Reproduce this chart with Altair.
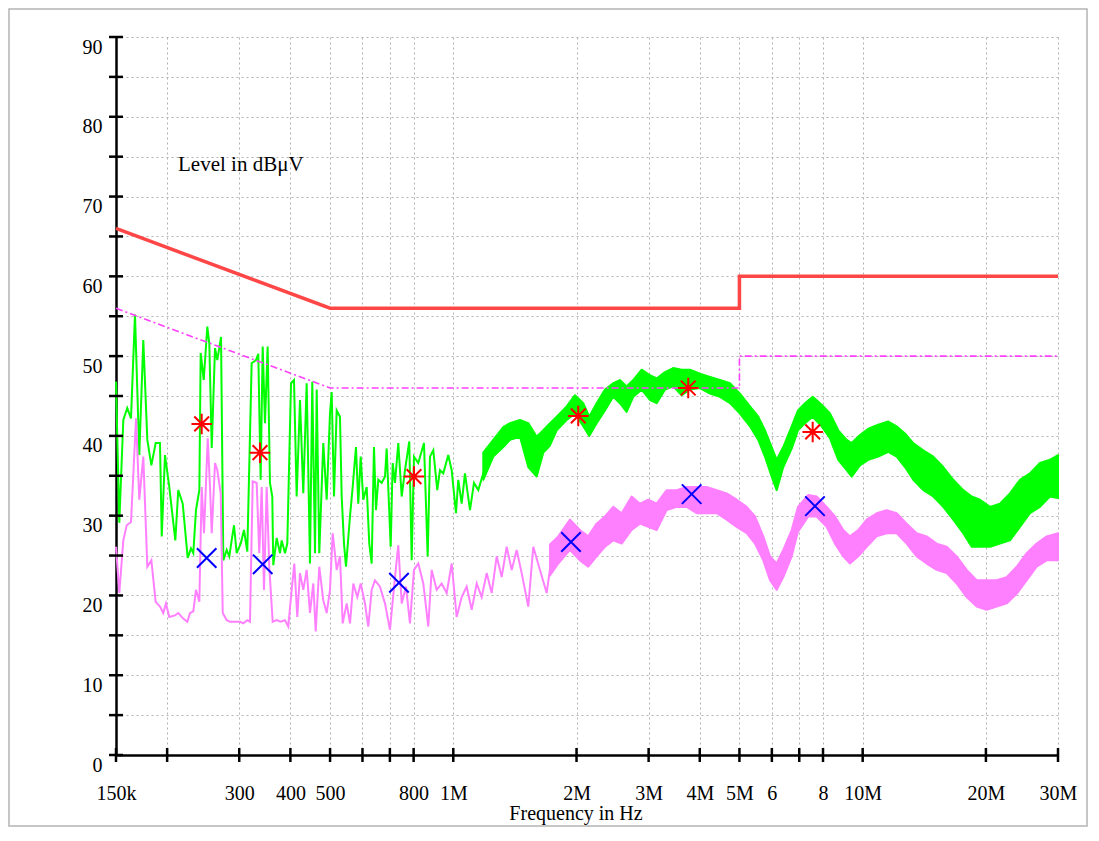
import altair as alt
import pandas as pd

# ---------------- data (frequency in MHz, level in dBuV) ----------------
qp_lim_f = [0.15, 0.5, 5.0, 5.0, 30.0]
qp_lim_l = [66, 56, 56, 60, 60]
av_lim_f = [0.15, 0.5, 5.0, 5.0, 30.0]
av_lim_l = [56, 46, 46, 50, 50]

green_f = [0.150, 0.1528, 0.1563, 0.1598, 0.1632, 0.1669, 0.1710, 0.1749, 0.1789, 0.1830,
           0.1875, 0.1921, 0.1940, 0.1976, 0.2024, 0.2094, 0.2129, 0.2183, 0.2245, 0.2287,
           0.2317, 0.2352, 0.2397, 0.2415, 0.2457, 0.2507, 0.2535, 0.2570, 0.2618, 0.2652,
           0.2708, 0.2743, 0.2796, 0.2837, 0.2875, 0.2913, 0.2957, 0.3025, 0.3081, 0.3139,
           0.3217, 0.3296, 0.3339, 0.3384, 0.3423, 0.3467, 0.3520, 0.3566, 0.3613, 0.3633,
           0.3703, 0.3773, 0.3809, 0.3881, 0.3931, 0.4014, 0.4082, 0.4144, 0.4222, 0.4301,
           0.4384, 0.4466, 0.4524, 0.4594, 0.4638, 0.4706, 0.4813, 0.4906, 0.4998, 0.5046,
           0.5112, 0.5190, 0.5287, 0.5338, 0.5408, 0.5469, 0.5593, 0.5679, 0.5785, 0.5860,
           0.5940, 0.6027, 0.6144, 0.6234, 0.6319, 0.6401, 0.6474, 0.6558, 0.6684, 0.6810,
           0.6875, 0.7032, 0.7111, 0.7204, 0.7339, 0.7481, 0.7621, 0.7807, 0.7913, 0.8016,
           0.8212, 0.8480, 0.8658, 0.8771, 0.8935, 0.9138, 0.9278, 0.9452, 0.9722, 0.9909,
           1.0152, 1.0284, 1.0482, 1.0679, 1.0984, 1.1234, 1.1509, 1.1837, 1.2066]
green_l = [46.8, 29.1, 42.0, 43.5, 42.2, 55.2, 37.6, 52.0, 39.5, 36.3,
           39.1, 39.1, 27.4, 37.6, 33.6, 26.9, 33.2, 31.5, 24.7, 25.9,
           25.3, 30.7, 33.2, 50.4, 47.0, 53.7, 51.6, 38.5, 51.0, 49.5,
           52.4, 24.4, 25.7, 24.9, 26.9, 28.8, 25.3, 26.5, 28.2, 25.5,
           49.1, 49.5, 50.3, 34.5, 51.2, 41.6, 51.2, 34.1, 32.4, 23.8,
           27.2, 25.3, 26.9, 25.3, 26.5, 46.6, 47.0, 32.4, 44.5, 32.8,
           46.6, 24.0, 46.8, 25.3, 45.8, 25.3, 39.1, 32.0, 42.8, 45.5,
           32.4, 43.2, 42.4, 32.4, 26.5, 23.6, 29.9, 33.6, 38.6, 31.5,
           37.4, 32.0, 33.6, 26.5, 24.0, 38.6, 30.7, 34.5, 34.1, 34.9,
           38.4, 26.1, 36.6, 34.1, 39.1, 32.4, 35.7, 39.3, 24.4, 37.4,
           36.6, 39.1, 24.9, 37.4, 38.2, 33.2, 35.7, 35.3, 37.6, 35.7,
           30.3, 34.5, 31.5, 35.3, 30.7, 34.1, 33.2, 35.3, 36.6]

green_band_f = [1.1837, 1.2522, 1.3247, 1.3756, 1.4552, 1.5246, 1.5984, 1.6588, 1.7226, 1.7888,
                1.8921, 1.9824, 2.0770, 2.1483, 2.2395, 2.3465, 2.4585, 2.5530, 2.6510, 2.7512,
                2.8848, 3.0227, 3.1388, 3.2888, 3.4458, 3.6123, 3.7848, 4.0038, 4.2359, 4.4808,
                4.7408, 5.0150, 5.3055, 5.5587, 5.7723, 5.9942, 6.1652, 6.3984, 6.7076, 6.95,
                7.2290, 7.5491, 7.9410, 8.3202, 8.7177, 9.1391, 9.3996, 9.8483, 10.319, 10.915,
                11.548, 12.106, 12.684, 13.290, 14.058, 14.874, 15.734, 16.644, 17.606, 18.462,
                19.345, 20.463, 21.646, 22.897, 24.222, 25.623, 27.105, 28.671, 30.0]
green_band_hi = [37.9, 39.5, 41.1, 41.6, 42.0, 41.6, 39.9, 40.7, 41.6, 42.4,
                 43.7, 45.1, 44.1, 42.4, 44.1, 45.8, 46.6, 47.0, 46.2, 47.0,
                 48.3, 47.6, 47.2, 48.0, 48.5, 48.3, 48.3, 47.8, 47.4, 47.0,
                 46.6, 45.3, 43.7, 42.4, 40.7, 38.6, 37.0, 38.6, 41.2, 43.2,
                 44.1, 44.9, 43.9, 42.8, 40.7, 39.5, 39.1, 40.1, 40.9, 41.4,
                 41.8, 41.2, 40.3, 39.1, 38.2, 37.4, 36.1, 34.5, 33.2, 32.4,
                 32.0, 31.1, 31.5, 32.8, 34.5, 35.3, 36.6, 37.0, 37.6]
green_band_lo = [34.5, 37.4, 38.6, 39.5, 39.9, 36.1, 34.9, 37.9, 38.8, 40.7,
                 42.0, 42.8, 41.2, 40.0, 41.6, 43.2, 44.9, 44.1, 43.0, 44.9,
                 45.8, 44.5, 44.1, 45.8, 46.2, 45.1, 45.8, 46.0, 45.3, 44.9,
                 44.1, 42.8, 41.2, 39.5, 37.4, 34.9, 33.2, 36.1, 38.4, 40.7,
                 41.6, 42.4, 41.2, 39.7, 37.0, 35.7, 34.9, 36.3, 37.0, 37.4,
                 38.0, 37.4, 36.1, 34.5, 33.2, 32.4, 31.1, 29.5, 27.8, 26.1,
                 26.1, 26.1, 26.5, 26.9, 28.6, 30.3, 31.1, 32.4, 32.2]

pink_f = [0.150, 0.1528, 0.1563, 0.1593, 0.1632, 0.1679, 0.1710, 0.1749, 0.1789, 0.1830,
          0.1875, 0.1921, 0.1957, 0.1987, 0.2024, 0.2090, 0.2129, 0.2190, 0.2240, 0.2274,
          0.2317, 0.2352, 0.2397, 0.2429, 0.2461, 0.2513, 0.2545, 0.2570, 0.2618, 0.2652,
          0.2703, 0.2734, 0.2796, 0.2848, 0.2929, 0.3013, 0.3069, 0.3139, 0.3187, 0.3236,
          0.3309, 0.3358, 0.3404, 0.3448, 0.3501, 0.3552, 0.3621, 0.3703, 0.3788, 0.3881,
          0.3953, 0.4029, 0.4089, 0.4158, 0.4222, 0.4301, 0.4384, 0.4466, 0.4550, 0.4612,
          0.4706, 0.4813, 0.4906, 0.4998, 0.5074, 0.5190, 0.5287, 0.5368, 0.5490, 0.5593,
          0.5698, 0.5828, 0.5940, 0.6085, 0.6199, 0.6319, 0.6437, 0.6621, 0.6810, 0.7004,
          0.7204, 0.7339, 0.7481, 0.7664, 0.7838, 0.8016, 0.8212, 0.8447, 0.8688, 0.8855,
          0.9108, 0.9368, 0.9635, 0.9909, 1.0192, 1.0482, 1.0782, 1.1090, 1.1406, 1.1731,
          1.2066, 1.2410, 1.2765, 1.3128, 1.3503, 1.3888, 1.4284, 1.4691, 1.5246, 1.5681,
          1.6283, 1.6910, 1.7391, 1.7948]
pink_l = [26.1, 20.3, 26.9, 28.8, 29.2, 42.2, 32.0, 37.4, 23.6, 24.4,
          19.2, 18.6, 17.8, 19.0, 17.3, 17.5, 17.8, 17.1, 16.7, 17.8,
          18.0, 20.7, 19.2, 33.6, 27.8, 39.7, 33.6, 27.8, 36.6, 35.7,
          32.8, 17.8, 16.9, 16.7, 16.7, 16.7, 16.5, 16.9, 16.7, 34.3,
          34.1, 25.3, 33.6, 20.7, 33.6, 23.6, 16.7, 16.9, 16.7, 16.9,
          16.1, 20.7, 24.0, 17.3, 22.8, 20.7, 23.2, 17.8, 21.5, 15.5,
          23.6, 19.4, 17.8, 20.7, 27.8, 23.2, 24.9, 16.5, 19.0, 16.5,
          21.5, 19.8, 21.5, 19.0, 16.1, 20.7, 21.9, 21.1, 19.0, 15.7,
          22.3, 26.3, 19.0, 21.1, 16.5, 23.2, 24.0, 21.5, 16.1, 23.2,
          20.7, 21.5, 20.3, 24.0, 17.3, 19.8, 21.1, 18.2, 21.5, 19.8,
          22.8, 20.3, 24.9, 22.3, 26.1, 23.2, 25.7, 22.8, 18.6, 26.1,
          23.2, 20.3, 24.9, 26.9]

pink_band_f = [1.7226, 1.8049, 1.9278, 2.0388, 2.1362, 2.2395, 2.3465, 2.4585, 2.5775, 2.7265,
               2.8574, 2.9940, 3.1388, 3.3204, 3.5124, 3.7154, 3.9301, 4.1580, 4.3986, 4.6536,
               4.9227, 5.2080, 5.4564, 5.7176, 5.9372, 6.1652, 6.3984, 6.7076, 6.95, 7.3643,
               7.7201, 8.1671, 8.5572, 8.9660, 9.3102, 9.7547, 10.227, 10.818, 11.444, 12.106,
               12.806, 13.548, 14.331, 15.161, 16.038, 16.966, 17.946, 18.990, 20.078, 21.249,
               22.477, 23.777, 25.150, 26.605, 28.149, 30.0]
pink_band_hi = [26.4, 27.4, 29.5, 28.2, 27.4, 29.0, 29.9, 31.1, 30.3, 32.4,
                31.5, 32.0, 31.5, 33.2, 33.2, 33.6, 33.6, 33.6, 33.2, 32.8,
                32.0, 31.1, 29.9, 27.4, 24.9, 24.0, 25.7, 28.2, 31.1, 32.6,
                32.4, 31.1, 29.9, 28.2, 27.4, 28.2, 29.5, 30.3, 30.7, 30.3,
                29.0, 27.8, 27.4, 26.5, 26.1, 24.9, 23.2, 21.9, 21.9, 21.9,
                22.3, 23.6, 25.3, 26.5, 27.4, 27.8]
pink_band_lo = [22.5, 24.0, 25.7, 24.4, 23.6, 24.9, 26.1, 26.9, 26.5, 28.2,
                29.0, 28.6, 28.2, 30.7, 31.1, 31.1, 30.3, 30.3, 30.3, 29.5,
                28.6, 27.8, 26.5, 24.4, 21.9, 20.7, 22.3, 24.9, 28.0, 29.9,
                29.9, 28.6, 26.5, 24.9, 24.0, 24.9, 26.1, 27.4, 27.8, 27.8,
                26.5, 24.9, 24.0, 23.2, 22.8, 21.5, 19.8, 18.6, 18.2, 18.6,
                19.0, 20.2, 21.9, 23.6, 24.4, 24.4]

qp_f = [0.2429, 0.3371, 0.8016, 2.0196, 3.749, 7.549]
qp_l = [41.5, 37.9, 34.9, 42.5, 46.0, 40.5]
av_f = [0.2498, 0.3423, 0.7368, 1.9385, 3.8214, 7.647]
av_l = [24.7, 23.9, 21.6, 26.7, 32.7, 31.2]

x_tick_vals = [0.15, 0.2, 0.3, 0.4, 0.5, 0.6, 0.7, 0.8, 1, 2, 3, 4, 5, 6, 7, 8, 10, 20, 30]
x_label_vals = [0.15, 0.3, 0.4, 0.5, 0.8, 1, 2, 3, 4, 5, 6, 8, 10, 20, 30]
x_label_text = ['150k', '300', '400', '500', '800', '1M', '2M', '3M', '4M', '5M',
                '6', '8', '10M', '20M', '30M']
y_tick_vals = list(range(0, 95, 5))

assert len(green_f) == len(green_l)
assert len(green_band_f) == len(green_band_hi) == len(green_band_lo)
assert len(pink_f) == len(pink_l)
assert len(pink_band_f) == len(pink_band_hi) == len(pink_band_lo)

# ---------------- helpers ----------------
W, H = 942, 718
FONT = 'Liberation Serif'

keys = [int(round(v * 100)) for v in x_label_vals]
key_js = '[' + ','.join(str(k) for k in keys) + ']'
txt_js = '[' + ','.join("'" + t + "'" for t in x_label_text) + ']'
x_label_expr = (f"indexof({key_js}, round(datum.value*100)) >= 0 ? "
                f"{txt_js}[indexof({key_js}, round(datum.value*100))] : ''")

grid_kw = dict(grid=True, gridColor='#b2b2b2', gridDash=[2, 3], gridWidth=1)
xaxis = alt.Axis(values=x_tick_vals, labelExpr=x_label_expr, ticks=False, tickSize=0,
                 domainColor='black', domainWidth=2.5, labelFont=FONT, labelFontSize=20,
                 labelColor='black', labelPadding=28, labelOverlap=False, labelFlush=False,
                 labelBound=False, title=None, **grid_kw)
yaxis = alt.Axis(values=y_tick_vals, labelExpr="datum.value % 10 == 0 ? datum.label : ''",
                 ticks=False, tickSize=0, domainColor='black', domainWidth=2.5,
                 labelFont=FONT, labelFontSize=20, labelColor='black', labelPadding=14,
                 labelBaseline='top', labelOverlap=False, labelFlush=False, title=None,
                 **grid_kw)
xs = alt.Scale(type='log', domain=[0.15, 30], nice=False)
ys = alt.Scale(domain=[0, 90], nice=False, zero=False)


def X(field='freq'):
    return alt.X(f'{field}:Q', scale=xs, axis=xaxis)


def Y(field='level'):
    return alt.Y(f'{field}:Q', scale=ys, axis=yaxis)


def line_df(f, l):
    return pd.DataFrame({'freq': f, 'level': l, 'i': list(range(len(f)))})


def band_df(f, hi, lo):
    return pd.DataFrame({'freq': f, 'hi': hi, 'lo': lo})


one = pd.DataFrame({'a': [0]})

# ---------------- layers ----------------
frame = alt.Chart(one).mark_rect(filled=False, stroke='#b4b4b4', strokeWidth=1.5).encode(
    x=alt.value(-107), x2=alt.value(W + 29), y=alt.value(-28), y2=alt.value(H + 71))

green_band = alt.Chart(band_df(green_band_f, green_band_hi, green_band_lo)).mark_area(
    color='#00ff00', opacity=1, stroke='#00ff00', strokeWidth=2,
    strokeJoin='round').encode(x=X(), y=Y('hi'), y2='lo:Q')
green_line = alt.Chart(line_df(green_f, green_l)).mark_line(
    color='#00ff00', strokeWidth=2).encode(x=X(), y=Y(), order='i:Q')

pink_band = alt.Chart(band_df(pink_band_f, pink_band_hi, pink_band_lo)).mark_area(
    color='#ff80ff', opacity=1, stroke='#ff80ff', strokeWidth=2,
    strokeJoin='round').encode(x=X(), y=Y('hi'), y2='lo:Q')
pink_line = alt.Chart(line_df(pink_f, pink_l)).mark_line(
    color='#ff80ff', strokeWidth=2).encode(x=X(), y=Y(), order='i:Q')

av_limit = alt.Chart(line_df(av_lim_f, av_lim_l)).mark_line(
    color='#ff40ff', strokeWidth=1.6, strokeDash=[7, 3, 2, 3]).encode(
    x=X(), y=Y(), order='i:Q')
qp_limit = alt.Chart(line_df(qp_lim_f, qp_lim_l)).mark_line(
    color='#ff4646', strokeWidth=3.5).encode(x=X(), y=Y(), order='i:Q')

asterisk = 'M0,-1L0,1M-1,0L1,0M-0.72,-0.72L0.72,0.72M-0.72,0.72L0.72,-0.72'
cross = 'M-1,-1L1,1M-1,1L1,-1'
qp_pts = alt.Chart(pd.DataFrame({'freq': qp_f, 'level': qp_l})).mark_point(
    shape=asterisk, filled=False, color='#ff0000', strokeWidth=2, size=420, opacity=1).encode(
    x=X(), y=Y())
av_pts = alt.Chart(pd.DataFrame({'freq': av_f, 'level': av_l})).mark_point(
    shape=cross, filled=False, color='#0000ff', strokeWidth=2, size=380, opacity=1).encode(
    x=X(), y=Y())

ytick_marks = alt.Chart(pd.DataFrame({'v': y_tick_vals})).mark_rule(
    color='black', strokeWidth=2.5).encode(y=Y('v'), x=alt.value(-7), x2=alt.value(7))
xtick_marks = alt.Chart(pd.DataFrame({'v': x_tick_vals})).mark_rule(
    color='black', strokeWidth=2.5).encode(x=X('v'), y=alt.value(H - 7), y2=alt.value(H + 7))

level_txt = alt.Chart(one).mark_text(
    text='Level in dBμV', font=FONT, fontSize=21, color='black', align='left',
    baseline='middle').encode(x=alt.value(62), y=alt.value(128))
freq_txt = alt.Chart(one).mark_text(
    text='Frequency in Hz', font=FONT, fontSize=20, color='black', align='center',
    baseline='middle').encode(x=alt.value(460), y=alt.value(777))

chart = alt.layer(
    frame, green_band, green_line, pink_band, pink_line, av_limit, qp_limit,
    qp_pts, av_pts, ytick_marks, xtick_marks, level_txt, freq_txt
).properties(
    width=W, height=H,
    autosize=alt.AutoSizeParams(type='none'),
    padding={'left': 108, 'top': 29, 'right': 30, 'bottom': 72},
    background='white'
).configure_view(stroke=None)

chart.save('out.html', embed_options={'renderer': 'svg', 'actions': False})
